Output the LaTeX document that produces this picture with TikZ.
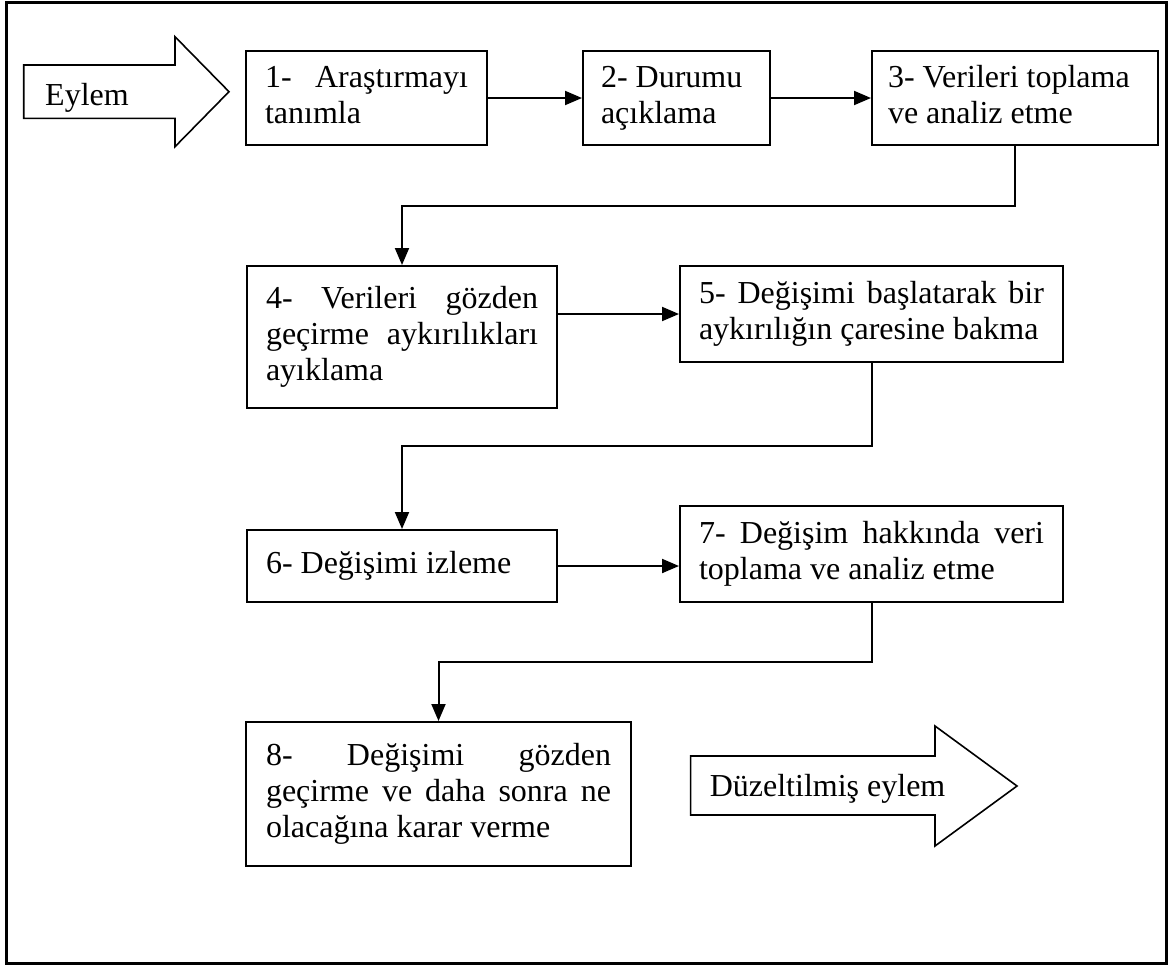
\documentclass[tikz,border=0pt]{standalone}
\usepackage{fontspec}
\setmainfont{Liberation Serif}
\usetikzlibrary{arrows.meta}
\setlength\parindent{0pt}
\newcommand\jl[1]{\makebox[\hsize][s]{\spaceskip=0pt\xspaceskip=0pt #1}}
\newcommand\boxfont{\fontsize{32}{36}\selectfont\tolerance=10000\hyphenpenalty=10000}
\begin{document}
\begin{tikzpicture}[x=1pt,y=-1pt,
  box/.style={draw, line width=2pt, fill=white, inner xsep=0pt, inner ysep=0pt, align=justify,
    font=\boxfont, execute at begin node=\strut, execute at end node=\strut},
  conn/.style={line width=2pt, -{Triangle[length=17pt,width=14pt]}},
  blockarrow/.style={draw, line width=1.6pt, fill=white, line join=miter},
  lbl/.style={font=\boxfont, inner sep=0pt, anchor=base west}]
\useasboundingbox (0,0) rectangle (1171,967);
\draw[line width=3pt] (6,2.5) rectangle (1166.5,963);

% block arrows
\draw[blockarrow] (23.7,65) -- (175,65) -- (175,36.7) -- (229,91.7) -- (175,146.7) -- (175,118.3) -- (23.7,118.3) -- cycle;
\node[lbl] (eylem) at (45,105) {Eylem};
\draw[blockarrow] (690.6,756) -- (935,756) -- (935,726) -- (1017,786) -- (935,846) -- (935,815) -- (690.6,815) -- cycle;
\node[lbl] (duz) at (709.6,796.7) {Düzeltilmiş eylem};

% boxes
\node[box, minimum width=241pt, minimum height=94pt, text width=203pt] (b1) at (366.5,98)
  {\jl{1- Araştırmayı}\\tanımla};
\node[box, minimum width=187pt, minimum height=94pt, text width=151pt] (b2) at (676.5,98)
  {2- Durumu\\açıklama};
\node[box, minimum width=286pt, minimum height=94pt, text width=254pt] (b3) at (1015,98)
  {3- Verileri toplama\\ve analiz etme};
\node[box, minimum width=310pt, minimum height=142pt, text width=272pt] (b4) at (402,337)
  {\jl{4- Verileri gözden}\\\jl{geçirme aykırılıkları}\\ayıklama};
\node[box, minimum width=383pt, minimum height=96pt, text width=345pt] (b5) at (871.5,314)
  {\jl{5- Değişimi başlatarak bir}\\aykırılığın çaresine bakma};
\node[box, minimum width=310pt, minimum height=72pt, text width=272pt] (b6) at (402,566)
  {6- Değişimi izleme};
\node[box, minimum width=383pt, minimum height=96pt, text width=345pt] (b7) at (871.5,554)
  {\jl{7- Değişim hakkında veri}\\toplama ve analiz etme};
\node[box, minimum width=385pt, minimum height=144pt, text width=345pt] (b8) at (438.5,794)
  {\jl{8- Değişimi gözden}\\\jl{geçirme ve daha sonra ne}\\olacağına karar verme};

% connectors
\draw[conn] (b1.east) -- (b2.west);
\draw[conn] (b2.east) -- (b3.west);
\draw[conn] (b3.south) -- ++(0,60) -| (b4.north);
\draw[conn] (b4.east |- b5.west) -- (b5.west);
\draw[conn] (b5.south) -- ++(0,83) -| (b6.north);
\draw[conn] (b6.east) -- (b7.west |- b6.east);
\draw[conn] (b7.south) -- ++(0,59) -| (b8.north);
\end{tikzpicture}
\end{document}
